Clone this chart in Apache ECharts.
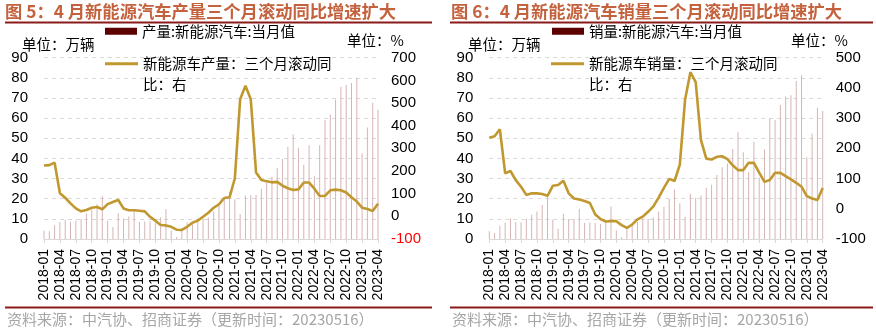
<!DOCTYPE html>
<html>
<head>
<meta charset="utf-8">
<script src="https://cdn.jsdelivr.net/npm/echarts@6/dist/echarts.min.js"></script>
<style>
html,body{margin:0;padding:0;background:#fff;}
#c{width:876px;height:328px;}
</style>
</head>
<body>
<div id="c"></div>
<script>
const months = [
'2018-01','2018-02','2018-03','2018-04','2018-05','2018-06','2018-07','2018-08','2018-09','2018-10','2018-11','2018-12',
'2019-01','2019-02','2019-03','2019-04','2019-05','2019-06','2019-07','2019-08','2019-09','2019-10','2019-11','2019-12',
'2020-01','2020-02','2020-03','2020-04','2020-05','2020-06','2020-07','2020-08','2020-09','2020-10','2020-11','2020-12',
'2021-01','2021-02','2021-03','2021-04','2021-05','2021-06','2021-07','2021-08','2021-09','2021-10','2021-11','2021-12',
'2022-01','2022-02','2022-03','2022-04','2022-05','2022-06','2022-07','2022-08','2022-09','2022-10','2022-11','2022-12',
'2023-01','2023-02','2023-03','2023-04'];

// 产量:新能源汽车:当月值 (万辆)
const prodMonthly = [
4.1,3.9,6.8,8.5,9.6,8.6,9.1,9.9,12.7,14.6,17.3,21.4,
9.1,5.9,12.8,10.2,11.2,14.2,8.4,8.7,8.9,8.0,10.8,14.9,
4.2,1.0,5.3,8.2,8.4,10.2,10.0,10.5,13.6,16.4,19.8,23.5,
19.7,12.4,21.6,21.7,21.8,24.9,28.5,30.9,35.3,39.8,45.7,51.9,
45.2,36.8,46.6,31.2,46.6,59.1,61.8,69.3,75.6,76.6,77.5,80.0,
42.4,55.3,67.6,64.2];
// 新能源车产量：三个月滚动同比 (%)
const prodYoY = [
224,226,237,102,82,57,35,22,28,38,41,31,
54,63,72,35,27,27,25,22,-2,-19,-38,-40,
-46,-59,-60,-46,-28,-19,-2,16,38,53,81,84,
168,517,576,517,193,160,155,150,152,135,124,116,
119,149,149,122,90,90,115,118,115,105,84,65,
38,32,24,56];

// 销量:新能源汽车:当月值 (万辆)
const salesMonthly = [
3.8,3.0,6.6,8.2,10.2,8.4,8.3,10.1,12.0,13.7,16.9,21.3,
9.5,5.1,12.5,9.9,10.1,15.0,7.9,8.2,8.0,7.4,8.5,16.1,
4.3,0.9,5.6,7.8,8.5,10.0,9.9,10.7,13.6,16.0,19.8,24.6,
17.8,11.1,22.4,20.5,21.6,25.5,26.9,31.8,35.6,37.5,44.7,53.0,
43.1,33.3,48.3,30.5,44.6,59.7,59.1,66.5,70.7,71.4,78.4,81.3,
40.6,52.4,65.2,63.5];
// 新能源车销量：三个月滚动同比 (%)
const salesYoY = [
235,240,263,117,125,95,73,46,51,51,49,43,
76,79,93,51,34,31,26,19,-18,-34,-42,-41,
-41,-54,-63,-52,-35,-26,-10,8,37,69,99,92,
146,362,452,419,227,166,163,172,174,164,144,128,
128,152,152,120,89,95,119,119,108,97,86,73,
42,34,29,69];

const leftAxisTicks = {min:0, max:90, interval:10};
const rightAxis1 = {min:-100, max:700, interval:100};
const rightAxis2 = {min:-100, max:500, interval:100};

const titles = ['图 5：4 月新能源汽车产量三个月滚动同比增速扩大','图 6：4 月新能源汽车销量三个月滚动同比增速扩大'];
const barNames = ['产量:新能源汽车:当月值','销量:新能源汽车:当月值'];
const lineNames = ['新能源车产量：三个月滚动同比：右','新能源车销量：三个月滚动同比：右'];
const sourceText = '资料来源：中汽协、招商证券（更新时间：20230516）';

const CJK = '"Noto Sans CJK SC", sans-serif';
const NUM = '"Liberation Sans", Arial, sans-serif';
const BAR_COLOR = '#d6b4b4';
const BAR_LEGEND = '#5c0000';
const LINE_COLOR = '#C0982F';
const GRID_LINE = '#d9d9d9';

const chart = echarts.init(document.getElementById('c'), null, {renderer:'canvas'});

function xAxis(i){
  return {type:'category', gridIndex:i, data:months, boundaryGap:false,
    axisLine:{show:true, lineStyle:{color:GRID_LINE, width:1}},
    axisTick:{show:true, interval:2, length:4, lineStyle:{color:GRID_LINE}},
    axisLabel:{interval:2, rotate:90, margin:10, color:'#000', fontSize:14, fontFamily:NUM}};
}
function yLeft(i){
  return Object.assign({type:'value', gridIndex:i, position:'left',
    axisLine:{show:false}, axisTick:{show:false},
    splitLine:{show:true, lineStyle:{color:GRID_LINE, type:[4,4], width:1}},
    axisLabel:{margin:16, color:'#000', fontSize:15, fontFamily:NUM}}, leftAxisTicks);
}
function yRight(i, r, negRed){
  return Object.assign({type:'value', gridIndex:i, position:'right',
    axisLine:{show:false}, axisTick:{show:false}, splitLine:{show:false},
    axisLabel:{margin:13, fontSize:15, fontFamily:NUM,
      color: function(v){ return (negRed && Number(v) < 0) ? '#FF0000' : '#000'; }}}, r);
}
function legendBar(i, x){
  return {left:x, top:24, padding:0, orient:'horizontal', data:[barNames[i]],
    icon:'rect', itemWidth:32, itemHeight:7, itemStyle:{color:BAR_LEGEND},
    selectedMode:false,
    textStyle:{fontSize:14.5, fontFamily:CJK, color:'#000'}};
}
function legendLine(i, x){
  return {left:x, top:33, padding:0, data:[lineNames[i]],
    icon:'rect', itemWidth:33, itemHeight:3, selectedMode:false,
    formatter:function(n){ return ' \n' + n.slice(0,13) + '\n' + n.slice(13); },
    textStyle:{fontSize:14.5, fontFamily:CJK, color:'#000', lineHeight:20.5}};
}
function txt(x, y, s, font, fill, align){
  return {type:'text', x:x, y:y, silent:true,
    style:{text:s, font:font, fill:fill, align:align||'left', verticalAlign:'middle'}};
}
function hline(x1, x2, y, color, w){
  return {type:'line', silent:true, shape:{x1:x1, y1:y, x2:x2, y2:y}, style:{stroke:color, lineWidth:w}};
}

const option = {
  animation:false,
  backgroundColor:'#fff',
  grid:[
    {left:44, top:57.7, width:334, height:181.3},
    {left:489.3, top:57.7, width:333.4, height:181.3}
  ],
  xAxis:[xAxis(0), xAxis(1)],
  yAxis:[yLeft(0), yRight(0, rightAxis1, true), yLeft(1), yRight(1, rightAxis2, false)],
  legend:[legendBar(0,105), legendLine(0,105), legendBar(1,552), legendLine(1,551)],
  series:[
    {name:barNames[0], type:'bar', xAxisIndex:0, yAxisIndex:0, data:prodMonthly, barWidth:1,
      itemStyle:{color:BAR_COLOR}},
    {name:lineNames[0], type:'line', xAxisIndex:0, yAxisIndex:1, data:prodYoY, symbol:'none',
      lineStyle:{color:LINE_COLOR, width:2.6}, itemStyle:{color:LINE_COLOR}},
    {name:barNames[1], type:'bar', xAxisIndex:1, yAxisIndex:2, data:salesMonthly, barWidth:1,
      itemStyle:{color:BAR_COLOR}},
    {name:lineNames[1], type:'line', xAxisIndex:1, yAxisIndex:3, data:salesYoY, symbol:'none',
      lineStyle:{color:LINE_COLOR, width:2.6}, itemStyle:{color:LINE_COLOR}}
  ],
  graphic:[
    txt(5, 11.5, titles[0], 'bold 17.3px '+CJK, '#C4623E'),
    txt(451, 11.5, titles[1], 'bold 17.3px '+CJK, '#C4623E'),
    hline(5, 432, 22.5, '#8B1A1A', 2),
    hline(450, 873, 22.5, '#8B1A1A', 2),
    hline(5, 432, 307.5, '#8B1A1A', 2),
    hline(450, 873, 307.5, '#8B1A1A', 2),
    txt(7, 319.5, sourceText, '15px '+CJK, '#A6A6A6'),
    txt(452, 319.5, sourceText, '15px '+CJK, '#A6A6A6'),
    txt(22, 44.5, '单位：万辆', '14.5px '+CJK, '#000'),
    txt(347, 40.5, '单位：%', '14.5px '+CJK, '#000'),
    txt(468, 44.5, '单位：万辆', '14.5px '+CJK, '#000'),
    txt(791, 40.5, '单位：%', '14.5px '+CJK, '#000')
  ]
};
chart.setOption(option);
</script>
</body>
</html>
